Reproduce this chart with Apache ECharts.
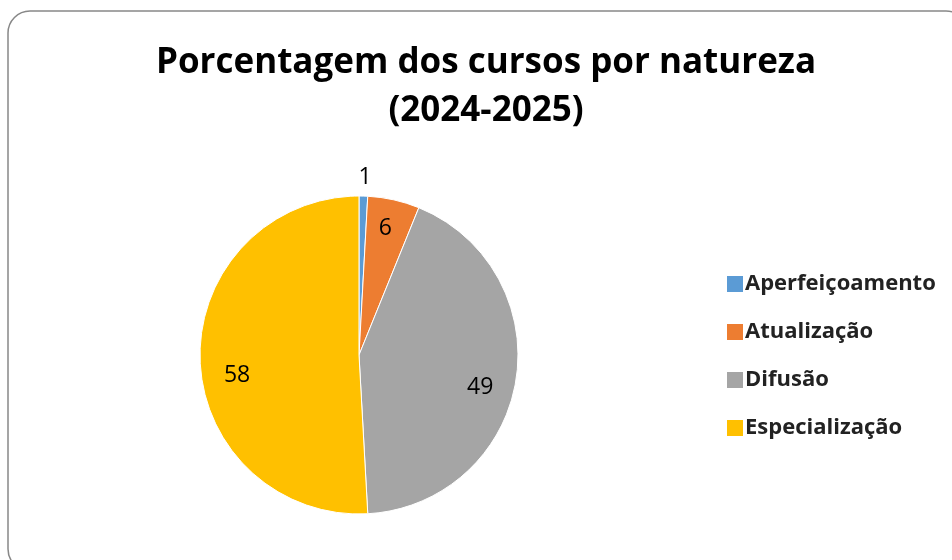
<!DOCTYPE html>
<html>
<head>
<meta charset="utf-8">
<script src="https://cdn.jsdelivr.net/npm/echarts@6/dist/echarts.min.js"></script>
<style>
  html, body { margin: 0; padding: 0; background: #fff; }
  #chart { width: 952px; height: 560px; }
</style>
</head>
<body>
<div id="chart"></div>
<script>
// dados do gráfico
var categorias = ['Aperfeiçoamento', 'Atualização', 'Difusão', 'Especialização']
var valores = [1, 6, 49, 58]
var cores = ['#5B9BD5', '#ED7D31', '#A5A5A5', '#FFC000']
var labelFora = [true, false, false, false]

var fonte = '"Open Sans", "Noto Sans", sans-serif'
var cx = 359, cy = 355, raio = 159
// ajuste fino dos rótulos (o Excel usa "melhor ajuste")
var ajusteRotulo = [[-10, -15], [-2, 0], [-7, 11], [8, 17]]

var chart = echarts.init(document.getElementById('chart'))

var dadosPie = categorias.map(function (c, i) {
  return {
    name: c,
    value: valores[i],
    itemStyle: { color: cores[i] },
    label: { show: labelFora[i], offset: ajusteRotulo[i] }
  }
})
var dadosLabel = categorias.map(function (c, i) {
  return {
    name: c,
    value: valores[i],
    label: { show: !labelFora[i], offset: ajusteRotulo[i] }
  }
})

chart.setOption({
  animation: false,
  title: {
    text: 'Porcentagem dos cursos por natureza\n(2024-2025)',
    left: 481,
    textAlign: 'center',
    top: 34,
    textStyle: {
      fontFamily: fonte,
      fontWeight: 'bold',
      fontSize: 35,
      lineHeight: 48,
      color: '#000'
    }
  },
  legend: {
    orient: 'vertical',
    left: 720,
    top: 268,
    itemWidth: 18,
    itemHeight: 18,
    itemGap: 26,
    icon: 'rect',
    data: categorias,
    textStyle: {
      fontFamily: fonte,
      fontWeight: 'bold',
      fontSize: 22,
      color: '#222',
      padding: [0, 0, 0, -4]
    }
  },
  graphic: [{
    type: 'rect',
    shape: { x: 8, y: 11, width: 960, height: 560, r: 22 },
    style: { fill: 'none', stroke: '#888', lineWidth: 1.5 },
    silent: true,
    z: 10
  }],
  series: [
    {
      type: 'pie',
      center: [cx, cy],
      radius: [0, raio],
      startAngle: 90,
      clockwise: true,
      itemStyle: { borderColor: '#fff', borderWidth: 1 },
      label: {
        position: 'outside',
        formatter: '{c}',
        fontFamily: fonte,
        fontSize: 23,
        color: '#000'
      },
      labelLine: { show: false, length: 4, length2: 0 },
      data: dadosPie
    },
    {
      // serie transparente só para posicionar os rótulos internos
      type: 'pie',
      center: [cx, cy],
      radius: [120, 134],
      startAngle: 90,
      clockwise: true,
      silent: true,
      legendHoverLink: false,
      itemStyle: { color: 'rgba(0,0,0,0)' },
      label: {
        position: 'inside',
        formatter: '{c}',
        fontFamily: fonte,
        fontSize: 23,
        color: '#000'
      },
      labelLine: { show: false },
      data: dadosLabel
    }
  ]
})
</script>
</body>
</html>
